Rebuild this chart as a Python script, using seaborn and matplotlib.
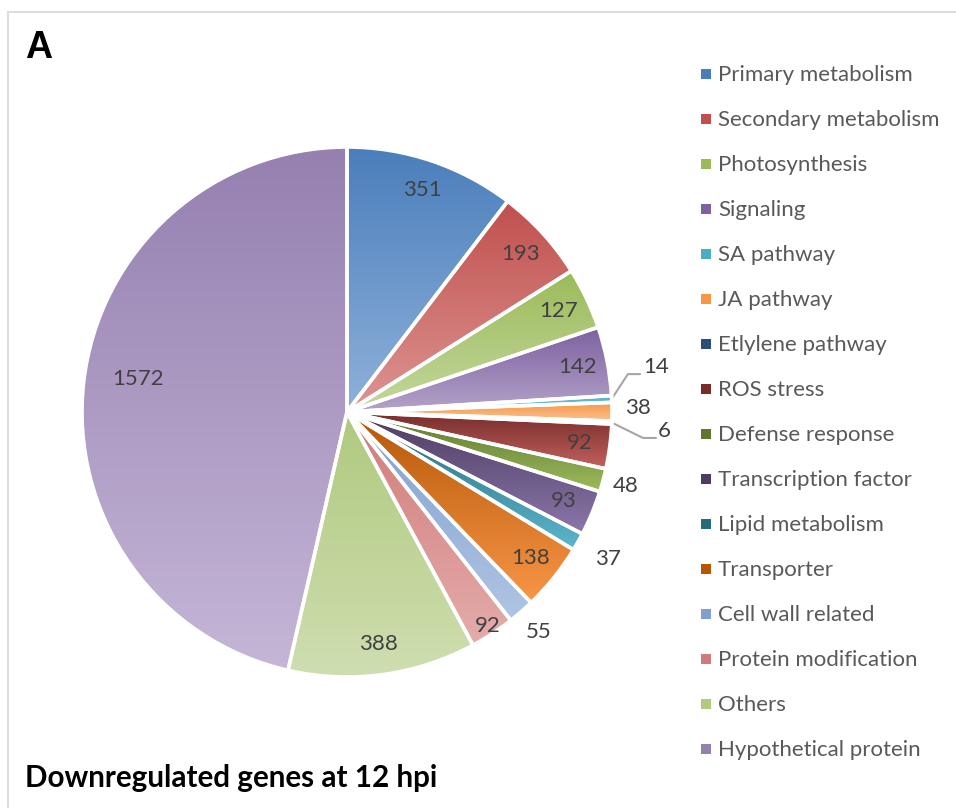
import numpy as np
import matplotlib
matplotlib.use("Agg")
import matplotlib.pyplot as plt
import seaborn as sns
from matplotlib.colors import LinearSegmentedColormap
from matplotlib.patches import Rectangle

categories = [
    'Primary metabolism', 'Secondary metabolism', 'Photosynthesis', 'Signaling',
    'SA pathway', 'JA pathway', 'Etlylene pathway', 'ROS stress',
    'Defense response', 'Transcription factor', 'Lipid metabolism', 'Transporter',
    'Cell wall related', 'Protein modification', 'Others', 'Hypothetical protein'
]
counts = [351, 193, 127, 142, 14, 38, 6, 92, 48, 93, 37, 138, 55, 92, 388, 1572]

# gradient colours (top -> bottom of each slice)
top_colors = [
    '#4a7ebb', '#c0504d', '#9bbb59', '#7d61a0', '#4bacc6', '#f79646',
    '#2c4d75', '#772c2a', '#5f7530', '#4d3b62', '#276a7c', '#b65708',
    '#819fcf', '#d07b79', '#b0c97e', '#9580b0'
]
bottom_colors = [
    '#8fb1da', '#dd9593', '#c4d79e', '#b3a3c9', '#8fd0e0', '#fac291',
    '#6a8fbf', '#c4625f', '#9dbc5c', '#8b78ab', '#5cb7cd', '#f79646',
    '#afc5e3', '#e4acab', '#cfdeb1', '#c5b6d7'
]

sns.set_style("white")
plt.rcParams['font.family'] = ['Lato', 'DejaVu Sans']

W, H = 956, 808
fig = plt.figure(figsize=(W / 100, H / 100), dpi=100)
cx, cy, R = 347, 412, 265
ax = fig.add_axes([(cx - R) / W, (H - cy - R) / H, 2 * R / W, 2 * R / H])

wedges, _ = ax.pie(counts, startangle=90, counterclock=False, radius=1,
                   wedgeprops=dict(edgecolor='white', linewidth=2.6, facecolor='none'))

grad = np.linspace(0, 1, 256)[:, None]
for w, c0, c1 in zip(wedges, top_colors, bottom_colors):
    w.set_zorder(3)
    verts = w.get_path().transformed(w.get_patch_transform()).vertices
    x0, y0 = verts.min(axis=0)
    x1, y1 = verts.max(axis=0)
    cmap = LinearSegmentedColormap.from_list('g', [c0, c1])
    im = ax.imshow(grad, extent=(x0, x1, y0, y1), origin='upper', cmap=cmap,
                   aspect='auto', zorder=1, interpolation='bilinear')
    im.set_clip_path(w)

ax.set_xlim(-1, 1)
ax.set_ylim(-1, 1)
ax.set_aspect('equal')
ax.axis('off')

# data labels
label_r = {13: 0.965, 8: 1.09, 10: 1.13, 12: 1.10}
txt_kw = dict(fontsize=16, color='#404040', ha='center', va='center')
for i, (w, v) in enumerate(zip(wedges, counts)):
    if i in (4, 5, 6):
        continue
    ang = np.deg2rad((w.theta1 + w.theta2) / 2)
    if i == 15:
        ang += np.deg2rad(-2.5)
        r = 0.80
    else:
        r = label_r.get(i, 0.885)
    ax.text(r * np.cos(ang), r * np.sin(ang), str(v), **txt_kw)

# small slices with leader lines
lead = '#a6a6a6'
a14 = np.deg2rad((wedges[4].theta1 + wedges[4].theta2) / 2)
ax.plot([np.cos(a14), 1.060, 1.106], [np.sin(a14), 0.143, 0.143],
        color=lead, lw=1.5, clip_on=False)
ax.text(1.117, 0.170, str(counts[4]), **{**txt_kw, 'ha': 'left'})
ax.text(1.098, 0.015, str(counts[5]), **txt_kw)
a6 = np.deg2rad((wedges[6].theta1 + wedges[6].theta2) / 2)
ax.plot([np.cos(a6), 1.117, 1.166], [np.sin(a6), -0.098, -0.098],
        color=lead, lw=1.5, clip_on=False)
ax.text(1.174, -0.072, str(counts[6]), **{**txt_kw, 'ha': 'left'})

# legend
for i, (lab, c0, c1) in enumerate(zip(categories, top_colors, bottom_colors)):
    y = 74 + 45 * i
    fig.patches.append(Rectangle((701 / W, 1 - (y + 5) / H), 10 / W, 10 / H,
                                 transform=fig.transFigure, facecolor=c0,
                                 edgecolor='none'))
    fig.text(718 / W, 1 - (y + 1) / H, lab, fontsize=16, color='#595959',
             ha='left', va='center')

fig.text(25 / W, 1 - 48 / H, 'A', fontsize=27, fontweight='bold', color='black',
         family='Liberation Sans', ha='left', va='center')
fig.text(25 / W, 1 - 778 / H, 'Downregulated genes at 12 hpi', fontsize=21.3,
         fontweight='bold', color='black', ha='left', va='center')

fig.patches.append(Rectangle((8 / W, -0.02), 1.1, (H - 12) / H + 0.02,
                             transform=fig.transFigure, facecolor='none',
                             edgecolor='#d9d9d9', linewidth=1.3))

fig.savefig('out.png', dpi=100)
